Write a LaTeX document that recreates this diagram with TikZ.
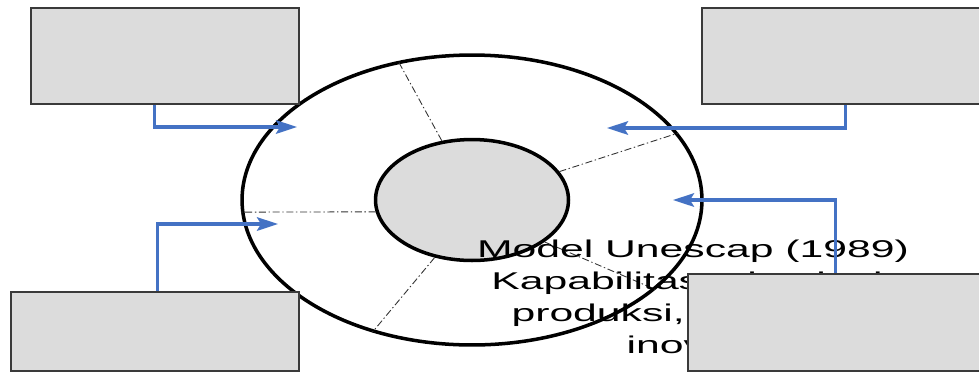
\documentclass[tikz,border=0pt]{standalone}
\usepackage{fontspec}
\setmainfont{Liberation Sans}
\usepackage{graphicx}
\usetikzlibrary{shapes.geometric, arrows.meta, positioning}
\definecolor{boxfill}{HTML}{DCDCDC}
\definecolor{boxline}{HTML}{3A3A3A}
\definecolor{flowblue}{HTML}{4472C4}
\tikzstyle{card}  = [rectangle, draw=boxline, line width=0.9pt, fill=boxfill,
                     inner sep=0pt, anchor=north west]
\tikzstyle{ring}  = [ellipse, draw=black, line width=2pt, inner sep=0pt]
\tikzstyle{sector}= [draw=black!80, line width=0.5pt,
                     dash pattern=on 4pt off 1.5pt on 0.8pt off 1.5pt]
\tikzstyle{flow}  = [-{Stealth[length=0.42cm, width=0.27cm, inset=0.08cm]},
                     draw=flowblue, line width=1.9pt]

\begin{document}
\begin{tikzpicture}[x=0.02cm, y=-0.02cm]
  \useasboundingbox (0,0) rectangle (979,373);

  %% Rings
  \node[ring, fill=white, minimum width=9.2cm, minimum height=5.8cm] (outer) at (472,200) {};
  \node[ring, fill=boxfill, minimum width=3.86cm, minimum height=2.42cm] (inner) at (472,200) {};

  %% Sectors
  \draw[sector] (inner.117) -- (outer.118);
  \draw[sector] (inner.18) -- (outer.18);
  \draw[sector] (inner.187) -- (outer.183);
  \draw[sector] (inner.237) -- (outer.233);
  \draw[sector] (inner.330) -- (outer.334);

  %% Caption
  \node[anchor=base, inner sep=0pt] (caption) at (693,257)
        {\fontsize{13.8pt}{18.3pt}\selectfont\scalebox{1.76}[1]{%
         \begin{tabular}[t]{@{}c@{}}Model Unescap (1989)\\Kapabilitas teknologi:\\
         produksi, investasi,\\inovasi\end{tabular}}};

  %% Boxes
  \node[card, minimum width=5.36cm, minimum height=1.92cm] (tl) at (30,7) {};
  \node[card, minimum width=5.60cm, minimum height=1.92cm] (tr) at (701,7) {};
  \node[card, minimum width=5.76cm, minimum height=1.58cm] (bl) at (10,291) {};
  \node[card, minimum width=5.88cm, minimum height=1.94cm] (br) at (687,273) {};

  %% Arrow ends
  \coordinate (intl) at (297,127);
  \coordinate (inbl) at (278,224);
  \coordinate (intr) at (607,128);
  \coordinate (inbr) at (673,200);

  %% Arrows
  \draw[flow] ([xshift=-0.2cm]tl.south) |- (intl);
  \draw[flow] ([xshift=0.06cm]bl.north) |- (inbl);
  \draw[flow] ([xshift=0.08cm]tr.south) |- (intr);
  \draw[flow] ([xshift=0.02cm]br.north) |- (inbr);

\end{tikzpicture}
\end{document}
